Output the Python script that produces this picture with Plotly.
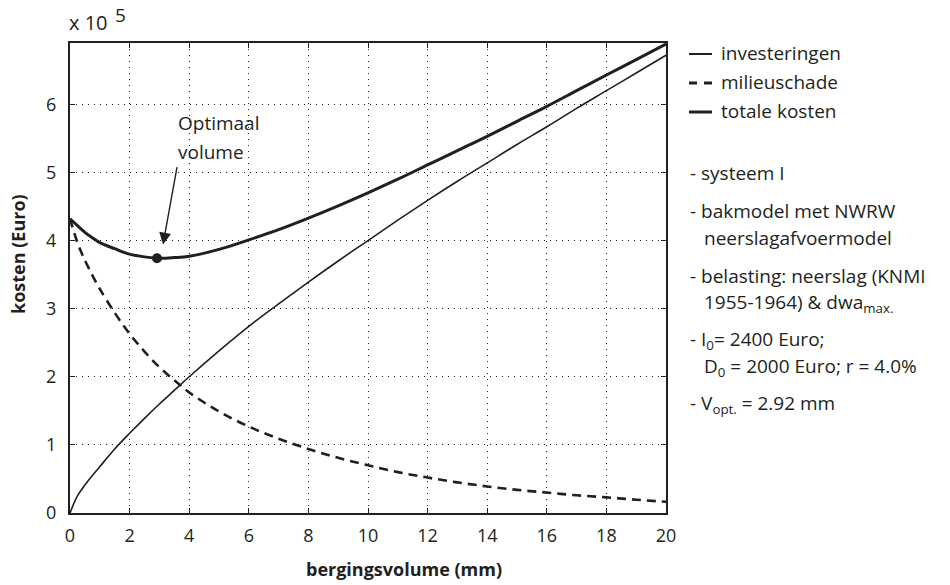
import plotly.graph_objects as go

# storage volume (mm)
volume = [0, 0.25, 0.5, 0.75, 1, 1.5, 2, 2.5, 3, 3.5, 4, 5, 6, 7, 8, 9, 10,
          11, 12, 13, 14, 15, 16, 17, 18, 19, 20]
# costs in units of 10^5 Euro
investeringen = [0, 0.25, 0.41, 0.55, 0.68, 0.94, 1.17, 1.39, 1.60, 1.80, 2.00,
                 2.38, 2.74, 3.07, 3.39, 3.70, 4.00, 4.30, 4.59, 4.87, 5.14,
                 5.41, 5.67, 5.94, 6.20, 6.46, 6.72]
milieuschade = [4.32, 3.97, 3.71, 3.49, 3.29, 2.94, 2.63, 2.37, 2.14, 1.95, 1.77,
                1.49, 1.27, 1.09, 0.94, 0.81, 0.70, 0.60, 0.52, 0.45, 0.39,
                0.34, 0.30, 0.26, 0.23, 0.195, 0.165]
totale_kosten = [4.32, 4.22, 4.12, 4.04, 3.97, 3.88, 3.80, 3.76, 3.74, 3.75, 3.77,
                 3.87, 4.01, 4.16, 4.33, 4.51, 4.70, 4.90, 5.11, 5.32, 5.53,
                 5.75, 5.97, 6.20, 6.43, 6.655, 6.885]
v_opt = 2.92
k_opt = 3.74

INK = "#231f20"
FONT = "Open Sans"
TXT = 19

# plot area in pixels
L, R, T, B = 70, 666, 43, 513
W, H = 950, 585
Y_MAX = 6.9


def px(xp):
    return (xp - L) / (R - L)


def py(yp):
    return (B - yp) / (B - T)


def ydata(yp):
    return (B - yp) / (B - T) * Y_MAX


fig = go.Figure()
fig.add_trace(go.Scatter(x=volume, y=investeringen, mode="lines",
                         line=dict(color=INK, width=1.6, shape="spline", smoothing=1),
                         name="investeringen"))
fig.add_trace(go.Scatter(x=volume, y=milieuschade, mode="lines",
                         line=dict(color=INK, width=2.6, dash="9px,6px", shape="spline",
                                   smoothing=1),
                         name="milieuschade"))
fig.add_trace(go.Scatter(x=volume, y=totale_kosten, mode="lines",
                         line=dict(color=INK, width=3, shape="spline", smoothing=1),
                         name="totale kosten"))
fig.add_trace(go.Scatter(x=[v_opt], y=[k_opt], mode="markers",
                         marker=dict(color=INK, size=10), name="optimum"))

axis_common = dict(
    showline=True, linecolor=INK, linewidth=2, mirror="ticks",
    ticks="inside", ticklen=5, tickwidth=1.2, tickcolor=INK,
    showgrid=True, gridcolor=INK, gridwidth=1, griddash="1px,5px",
    zeroline=False,
    tickfont=dict(family=FONT, size=18, color=INK),
)
fig.update_xaxes(range=[0, 20], tick0=0, dtick=2, ticklabelstandoff=5, **axis_common)
fig.update_yaxes(range=[0, Y_MAX], tick0=0, dtick=1, ticklabelstandoff=8, **axis_common)

ann = []
# axis titles
ann.append(dict(xref="paper", yref="paper", x=px(404), y=py(569), text="<b>bergingsvolume (mm)</b>",
                showarrow=False, font=dict(family=FONT, size=18, color=INK),
                xanchor="center", yanchor="middle"))
ann.append(dict(xref="paper", yref="paper", x=px(18), y=py(254), text="<b>kosten (Euro)</b>",
                showarrow=False, textangle=-90, font=dict(family=FONT, size=18, color=INK),
                xanchor="center", yanchor="middle"))
# exponent label
ann.append(dict(xref="paper", yref="paper", x=px(67), y=py(23), text="x 10",
                showarrow=False, font=dict(family=FONT, size=20, color=INK),
                xanchor="left", yanchor="middle"))
ann.append(dict(xref="paper", yref="paper", x=px(113), y=py(15), text="5",
                showarrow=False, font=dict(family=FONT, size=19, color=INK),
                xanchor="left", yanchor="middle"))
# optimum label and arrow
ann.append(dict(xref="x", yref="y", x=3.55, y=ydata(123), text="Optimaal",
                showarrow=False, font=dict(family=FONT, size=TXT, color=INK),
                xanchor="left", yanchor="middle"))
ann.append(dict(xref="x", yref="y", x=3.55, y=ydata(152), text="volume",
                showarrow=False, font=dict(family=FONT, size=TXT, color=INK),
                xanchor="left", yanchor="middle"))
ann.append(dict(xref="x", yref="y", x=3.12, y=3.94, ax=3.6, ay=5.1, axref="x", ayref="y",
                text="", showarrow=True, arrowhead=2, arrowsize=1.7, arrowwidth=1.4,
                arrowcolor=INK))

# right-hand key and notes
notes = [
    (719, 53, "investeringen"),
    (719, 82, "milieuschade"),
    (719, 111, "totale kosten"),
    (688, 173, "- systeem I"),
    (688, 211, "- bakmodel met NWRW"),
    (702, 238, "neerslagafvoermodel"),
    (688, 276, "- belasting: neerslag (KNMI"),
    (702, 303, "1955-1964) & dwa<sub>max.</sub>"),
    (688, 340, "- I<sub>0</sub>= 2400 Euro;"),
    (702, 367, "D<sub>0</sub> = 2000 Euro; r = 4.0%"),
    (688, 404, "- V<sub>opt.</sub> = 2.92 mm"),
]
for xp, yp, txt in notes:
    ann.append(dict(xref="paper", yref="paper", x=px(xp), y=py(yp), text=txt,
                    showarrow=False, font=dict(family=FONT, size=TXT, color=INK),
                    xanchor="left", yanchor="middle"))

shapes = [
    dict(type="line", xref="paper", yref="paper", x0=px(689), x1=px(712), y0=py(54), y1=py(54),
         line=dict(color=INK, width=2)),
    dict(type="line", xref="paper", yref="paper", x0=px(689), x1=px(697), y0=py(83), y1=py(83),
         line=dict(color=INK, width=3)),
    dict(type="line", xref="paper", yref="paper", x0=px(704), x1=px(712), y0=py(83), y1=py(83),
         line=dict(color=INK, width=3)),
    dict(type="line", xref="paper", yref="paper", x0=px(689), x1=px(712), y0=py(112), y1=py(112),
         line=dict(color=INK, width=3)),
]

fig.update_layout(
    width=W, height=H,
    margin=dict(l=L, r=W - R, t=T, b=H - B),
    paper_bgcolor="white", plot_bgcolor="white",
    showlegend=False,
    annotations=ann, shapes=shapes,
    font=dict(family=FONT, color=INK),
)

fig.write_html("out.html")
